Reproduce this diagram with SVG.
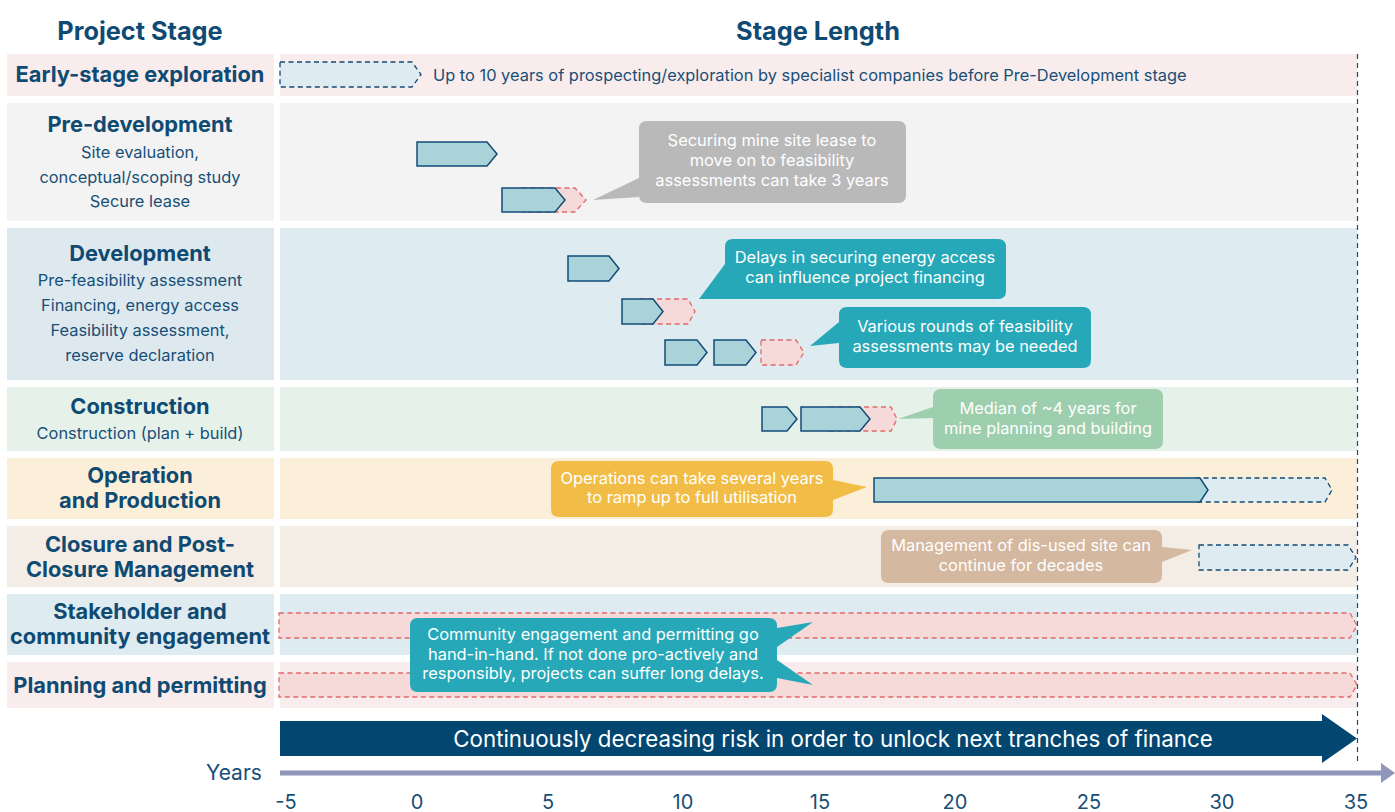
<svg xmlns="http://www.w3.org/2000/svg" width="1395" height="812" viewBox="0 0 1395 812">
<defs>
<style>
.hdr{font-family:Inter,"Noto Sans","Liberation Sans",sans-serif;font-weight:700;font-size:25.3px;fill:#0f4a73;text-anchor:middle}
.ttl{font-family:Inter,"Noto Sans","Liberation Sans",sans-serif;font-weight:700;font-size:21.8px;fill:#0f4a73;text-anchor:middle}
.sub{font-family:Inter,"Noto Sans","Liberation Sans",sans-serif;font-size:16.4px;fill:#174f77;text-anchor:middle}
.co{font-family:Inter,"Noto Sans","Liberation Sans",sans-serif;font-size:16.4px;fill:#ffffff;text-anchor:middle}
.lbl{font-family:Inter,"Noto Sans","Liberation Sans",sans-serif;font-size:16.4px;fill:#174f77}
.tick{font-family:Inter,"Noto Sans","Liberation Sans",sans-serif;font-size:20px;fill:#174f77;text-anchor:middle}
.solid{fill:#a9d2d9;stroke:#124c78;stroke-width:1.5}
.dblue{fill:#deebf0;stroke:#124c78;stroke-width:1.3;stroke-dasharray:5 3.5}
.dpink{fill:#f6dada;stroke:#e06a6a;stroke-width:1.3;stroke-dasharray:5 3.5}
</style>
</defs>
<rect width="1395" height="812" fill="#ffffff"/>

<text class="hdr" x="140" y="40">Project Stage</text>
<text class="hdr" x="818" y="40">Stage Length</text>

<g id="row-early">
<rect x="7" y="54" width="267" height="42" fill="#f9ecec"/>
<rect x="280" y="54" width="1077" height="42" fill="#f9ecec"/>
<text class="ttl" x="140" y="81.5">Early-stage exploration</text>
<path class="dblue" d="M280 62 H412 L421 74.5 L412 87 H280 Z"/>
<text class="lbl" x="433" y="81">Up to 10 years of prospecting/exploration by specialist companies before Pre-Development stage</text>
</g>

<g id="row-predev">
<rect x="7" y="103" width="267" height="118" fill="#f3f3f3"/>
<rect x="280" y="103" width="1077" height="118" fill="#f3f3f3"/>
<text class="ttl" x="140" y="131.5">Pre-development</text>
<text class="sub" x="140" y="157.5">Site evaluation,</text>
<text class="sub" x="140" y="182.5">conceptual/scoping study</text>
<text class="sub" x="140" y="206.5">Secure lease</text>
<path class="solid" d="M417 142 H487 L497 154 L487 166 H417 Z"/>
<path class="dpink" d="M522 188 H575 L586 200 L575 212 H522 Z"/>
<path class="solid" d="M502 188 H555 L565 200 L555 212 H502 Z"/>
<g id="callout-lease">
<path d="M647 121 H898 Q906 121 906 129 V195 Q906 203 898 203 H647 Q639 203 639 195 V197 L593 200 L639 178 V129 Q639 121 647 121 Z" fill="#b9b9ba"/>
<text class="co" x="772" y="146">Securing mine site lease to</text>
<text class="co" x="772" y="166">move on to feasibility</text>
<text class="co" x="772" y="186">assessments can take 3 years</text>
</g>
</g>

<g id="row-dev">
<rect x="7" y="228" width="267" height="152" fill="#dde9ef"/>
<rect x="280" y="228" width="1077" height="152" fill="#deebf0"/>
<text class="ttl" x="140" y="260.5">Development</text>
<text class="sub" x="140" y="285.5">Pre-feasibility assessment</text>
<text class="sub" x="140" y="310.5">Financing, energy access</text>
<text class="sub" x="140" y="335.5">Feasibility assessment,</text>
<text class="sub" x="140" y="360.5">reserve declaration</text>
<path class="solid" d="M568 256 H609 L619 268.5 L609 281 H568 Z"/>
<path class="dpink" d="M640 299 H688 L695 311.5 L688 324 H640 Z"/>
<path class="solid" d="M622 299 H653 L663 311.5 L653 324 H622 Z"/>
<path class="solid" d="M665 340 H697 L707 352.5 L697 365 H665 Z"/>
<path class="solid" d="M714 340 H746 L756 352.5 L746 365 H714 Z"/>
<path class="dpink" d="M761 340 H796 L804 352.5 L796 365 H761 Z"/>
<g id="callout-energy">
<path d="M733 239 H998 Q1006 239 1006 247 V291 Q1006 299 998 299 H745 L699 299 L725 264 V247 Q725 239 733 239 Z" fill="#26a8b8"/>
<text class="co" x="865" y="262.5">Delays in securing energy access</text>
<text class="co" x="865" y="282.5">can influence project financing</text>
</g>
<g id="callout-feas">
<path d="M847 307 H1083 Q1091 307 1091 315 V360 Q1091 368 1083 368 H847 Q839 368 839 360 V343 L810 346 L839 322 V315 Q839 307 847 307 Z" fill="#26a8b8"/>
<text class="co" x="965" y="332">Various rounds of feasibility</text>
<text class="co" x="965" y="352">assessments may be needed</text>
</g>
</g>

<g id="row-construction">
<rect x="7" y="387" width="267" height="64" fill="#e6f1ea"/>
<rect x="280" y="387" width="1077" height="64" fill="#e6f1ea"/>
<text class="ttl" x="140" y="413.5">Construction</text>
<text class="sub" x="140" y="438.5">Construction (plan + build)</text>
<path class="solid" d="M762 407 H787 L797 419 L787 431 H762 Z"/>
<path class="dpink" d="M830 407 H891 L897 419 L891 431 H830 Z"/>
<path class="solid" d="M801 407 H860 L870 419 L860 431 H801 Z"/>
<g id="callout-median">
<path d="M941 389 H1155 Q1163 389 1163 397 V441 Q1163 449 1155 449 H941 Q933 449 933 441 V418 L898 419 L933 407 V397 Q933 389 941 389 Z" fill="#9dceae"/>
<text class="co" x="1048" y="414">Median of ~4 years for</text>
<text class="co" x="1048" y="434">mine planning and building</text>
</g>
</g>

<g id="row-operation">
<rect x="7" y="458" width="267" height="61" fill="#fcefd9"/>
<rect x="280" y="458" width="1077" height="61" fill="#fcefd9"/>
<text class="ttl" x="140" y="482.5">Operation</text>
<text class="ttl" x="140" y="507.5">and Production</text>
<path class="dblue" d="M1195 478 H1325 L1332 490 L1325 502 H1195 Z"/>
<path class="solid" d="M874 478 H1200 L1208 490 L1200 502 H874 Z"/>
<g id="callout-ops">
<path d="M559 461 H825 Q833 461 833 469 V480 L867 487 L833 500 V509 Q833 517 825 517 H559 Q551 517 551 509 V469 Q551 461 559 461 Z" fill="#f2bd46"/>
<text class="co" x="692" y="483.5">Operations can take several years</text>
<text class="co" x="692" y="503">to ramp up to full utilisation</text>
</g>
</g>

<g id="row-closure">
<rect x="7" y="526" width="267" height="61" fill="#f4ede6"/>
<rect x="280" y="526" width="1077" height="61" fill="#f4ede6"/>
<text class="ttl" x="140" y="551.5">Closure and Post-</text>
<text class="ttl" x="140" y="576.5">Closure Management</text>
<path class="dblue" d="M1199 545 H1348 L1356 557.5 L1348 570 H1199 Z"/>
<g id="callout-closure">
<path d="M889 530 H1154 Q1162 530 1162 538 V547 L1192 550 L1162 562 V575 Q1162 583 1154 583 H889 Q881 583 881 575 V538 Q881 530 889 530 Z" fill="#d4b8a0"/>
<text class="co" x="1021" y="551">Management of dis-used site can</text>
<text class="co" x="1021" y="570.5">continue for decades</text>
</g>
</g>

<g id="row-stakeholder">
<rect x="7" y="594" width="267" height="61" fill="#deebf0"/>
<rect x="280" y="594" width="1077" height="61" fill="#deebf0"/>
<text class="ttl" x="140" y="618.5">Stakeholder and</text>
<text class="ttl" x="140" y="643.5">community engagement</text>
<path class="dpink" d="M279 613 H1350 L1357 625.5 L1350 638 H279 Z"/>
</g>

<g id="row-planning">
<rect x="7" y="662" width="267" height="46" fill="#f9ecec"/>
<rect x="280" y="662" width="1077" height="46" fill="#f9ecec"/>
<text class="ttl" x="140" y="692.5">Planning and permitting</text>
<path class="dpink" d="M279 673 H1350 L1357 685 L1350 697 H279 Z"/>
</g>

<g id="callout-community">
<path d="M418 618 H769 Q777 618 777 626 V628 L813 622 L777 647 V660 L813 685 L777 678 V684 Q777 692 769 692 H418 Q410 692 410 684 V626 Q410 618 418 618 Z" fill="#26a8b8"/>
<text class="co" x="593" y="640">Community engagement and permitting go</text>
<text class="co" x="593" y="659.5">hand-in-hand. If not done pro-actively and</text>
<text class="co" x="593" y="679">responsibly, projects can suffer long delays.</text>
</g>

<g id="connectors">
<line x1="1357.5" y1="54" x2="1357.5" y2="765" stroke="#124c78" stroke-width="1.2" stroke-dasharray="5 4"/>
<path d="M280 721 H1322 V714 L1357 738.5 L1322 763 V756 H280 Z" fill="#03466f"/>
<text x="833" y="746.5" font-family="Inter,'Noto Sans','Liberation Sans',sans-serif" font-size="22.3" fill="#ffffff" text-anchor="middle">Continuously decreasing risk in order to unlock next tranches of finance</text>
<line x1="280" y1="773" x2="1384" y2="773" stroke="#8e96b9" stroke-width="5"/>
<path d="M1381 763 L1395 773 L1381 783 Z" fill="#8e96b9"/>
</g>

<g id="axis-labels">
<text x="206" y="780" font-family="Inter,'Noto Sans','Liberation Sans',sans-serif" font-size="21" fill="#174f77">Years</text>
<text class="tick" x="286" y="809">-5</text>
<text class="tick" x="417" y="809">0</text>
<text class="tick" x="548" y="809">5</text>
<text class="tick" x="683" y="809">10</text>
<text class="tick" x="820" y="809">15</text>
<text class="tick" x="955" y="809">20</text>
<text class="tick" x="1089" y="809">25</text>
<text class="tick" x="1222" y="809">30</text>
<text class="tick" x="1356" y="809">35</text>
</g>
</svg>
